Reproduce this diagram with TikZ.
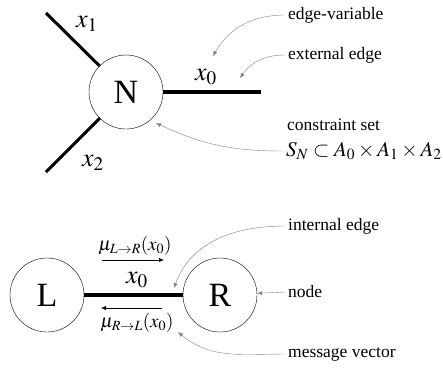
\documentclass[tikz,border=0pt]{standalone}
\usepackage{mathptmx}
\usepackage{fontspec}
\setmainfont{Liberation Serif}
\usetikzlibrary{arrows.meta,positioning}
\tikzset{
  vertex/.style={circle,draw,thin,minimum size=74pt,inner sep=0pt,
    font=\fontsize{34}{34}\selectfont},
  edgeline/.style={line width=3pt},
  extline/.style={line width=4pt},
  note/.style={anchor=west,inner sep=0pt,font=\fontsize{17.5}{20}\selectfont},
  varlab/.style={inner sep=0pt,font=\fontsize{26}{26}\selectfont},
  msglab/.style={inner sep=0pt,font=\fontsize{19}{19}\selectfont},
  pointer/.style={gray,thin,-{Latex[length=5pt,width=4pt]}},
  msg/.style={thin,-{Latex[length=5pt,width=4pt]}}
}

\begin{document}
\begin{tikzpicture}[x=1pt,y=-1pt]
  \useasboundingbox (0,0) rectangle (443,367);
  % single node with its three edges
  \node[vertex] (N) at (126,92) {N};
  \coordinate (e1) at (46,13);
  \coordinate (e2) at (46,172);
  \coordinate (e0) at (261,92);
  \draw[edgeline] (N) -- (e1);
  \draw[edgeline] (N) -- (e2);
  \draw[extline] (N) -- (e0);
  \node[varlab] (x1) at (87,24) {$x_1$};
  \node[varlab] (x2) at (93,163) {$x_2$};
  \node[varlab] (x0) at (206,77) {$x_0$};
  \node[note] (tvar) at (288,15) {edge-variable};
  \node[note] (text) at (288,55) {external edge};
  \node[note] (tcon) at (287,125) {constraint set};
  \node[note,font=\fontsize{21}{21}\selectfont] (tset) at (286,151)
    {$S_N\subset A_0\times A_1\times A_2$};
  \coordinate (pvar) at (213,56);
  \coordinate (pext) at (240,78);
  \coordinate (pcon) at (156,123);
  \draw[pointer] ([xshift=-3pt]tvar.west) to[out=180,in=60] (pvar);
  \draw[pointer] ([xshift=-3pt]text.west) to[out=180,in=55] (pext);
  \draw[pointer] ([xshift=-3pt]tset.west) to[out=180,in=-25] (pcon);
  % two nodes joined by an internal edge
  \node[vertex] (L) at (47,295) {L};
  \node[vertex] (R) at (220,295) {R};
  \draw[extline] (L) -- (R);
  \node[varlab] (y0) at (137,280) {$x_0$};
  \node[msglab] (muLR) at (135,246) {$\mu_{L\to R}(x_0)$};
  \node[msglab] (muRL) at (137,323) {$\mu_{R\to L}(x_0)$};
  \coordinate (a1) at (102,260);
  \coordinate (a2) at (164,260);
  \coordinate (b1) at (162,308);
  \coordinate (b2) at (101,308);
  \draw[msg] (a1) -- (a2);
  \draw[msg] (b1) -- (b2);
  \node[note] (tint) at (288,226) {internal edge};
  \node[note] (tnode) at (288,292) {node};
  \node[note] (tmsg) at (288,354) {message vector};
  \coordinate (pint) at (174,288);
  \coordinate (pmsg) at (178,332);
  \draw[pointer] ([xshift=-3pt]tint.west) to[out=180,in=70] (pint);
  \draw[pointer] ([xshift=-3pt]tnode.west) -- (R);
  \draw[pointer] ([xshift=-3pt]tmsg.west) to[out=180,in=-40] (pmsg);
\end{tikzpicture}
\end{document}
